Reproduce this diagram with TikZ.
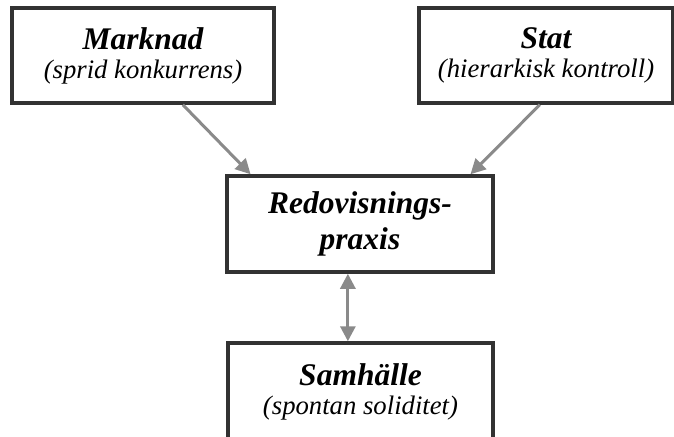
\documentclass[tikz,border=0pt]{standalone}
\usepackage{fontspec}
\setmainfont{Liberation Serif}
\usepackage{tikz}
\usetikzlibrary{arrows.meta}
\usetikzlibrary{calc}
\tikzset{every picture/.style={line width=0.75pt}}
\definecolor{boxline}{RGB}{50,50,50}
\definecolor{linkgray}{RGB}{138,138,138}
\tikzset{
  box/.style={draw=boxline, line width=3.5pt, fill=white, rectangle, inner sep=0pt, align=center,
    font=\fontsize{26.7}{29}\selectfont},
  link/.style={draw=linkgray, line width=3pt, -{Triangle[length=15pt,width=15pt]}},
  twoway/.style={draw=linkgray, line width=3pt, {Triangle[length=15pt,width=15pt]}-{Triangle[length=15pt,width=15pt]}},
}
\newcommand{\hdtxt}[1]{{\fontsize{31.5}{36}\selectfont\bfseries\itshape #1}}
\newcommand{\subtxt}[1]{{\itshape #1}}

\begin{document}
\begin{tikzpicture}[x=1pt,y=1pt,yscale=-1,xscale=1]
\path[use as bounding box, clip] (0,0) rectangle (674,436);

%Shape: Marknad box
\node[box, minimum width=262pt, minimum height=95pt] (markn) at (143,55.5)
  {\hdtxt{Marknad}\\\subtxt{(sprid konkurrens)}};
%Shape: Stat box
\node[box, minimum width=254pt, minimum height=95pt] (stat) at (546,55.5)
  {\hdtxt{Stat}\\\subtxt{(hierarkisk kontroll)}};
%Shape: Redovisningspraxis box
\node[box, minimum width=266pt, minimum height=96pt, font=\fontsize{31.5}{36}\selectfont] (redo) at (360,224)
  {\hdtxt{Redovisnings-}\\\hdtxt{praxis}};
%Shape: Samhalle box (runs past the lower edge)
\node[box, minimum width=265pt, minimum height=98pt] (samh) at (360.5,392)
  {\hdtxt{Samhälle}\\\subtxt{(spontan soliditet)}};

%Straight Lines
\draw[link] ($(markn.south west)!0.65!(markn.south east)$) -- ($(redo.north west)!0.094!(redo.north east)$);
\draw[link] ($(stat.south west)!0.476!(stat.south east)$) -- ($(redo.north west)!0.91!(redo.north east)$);
\coordinate (mid) at ($(redo.south west)!0.455!(redo.south east)$);
\draw[twoway] (mid) -- (mid |- samh.north);

\end{tikzpicture}
\end{document}
